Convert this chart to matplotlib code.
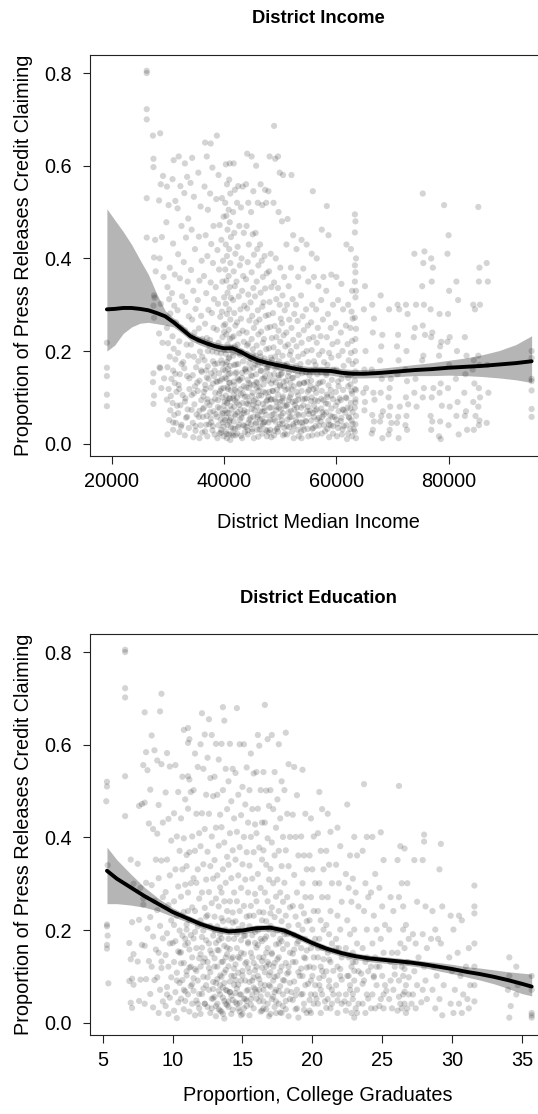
import numpy as np
import matplotlib
matplotlib.use("Agg")
import matplotlib.pyplot as plt

plt.rcParams['font.family'] = ['Liberation Sans', 'DejaVu Sans']

# district median income vs share of credit claiming releases
income_points = [
    (19100, .218), (19100, .164), (19100, .146), (19100, .106), (19100, .081),
    (26200, .805), (26200, .800), (26200, .722), (26200, .700), (26200, .530), (26200, .445),
    (27300, .665), (27400, .615), (27400, .597), (27700, .440), (27500, .402), (27800, .372), (27500, .320),
    (27600, .315), (27400, .298), (27500, .272), (27400, .152), (27300, .133), (27500, .104), (27400, .086),
    (28600, .670), (29100, .578), (28700, .560), (28400, .525), (28900, .446), (28500, .400), (29200, .360),
    (28700, .302), (28400, .238), (29000, .218), (28500, .165), (28600, .163), (29300, .141), (28800, .120),
    (29800, .555), (30100, .515), (29700, .478), (30300, .380), (29900, .338), (30200, .312), (30400, .281),
    (29800, .250), (30000, .217), (30300, .188), (29900, .165), (30600, .140), (30100, .118), (29800, .095),
    (30400, .072), (30200, .051), (29900, .020),
    (31000, .612), (30800, .571), (31300, .524), (30900, .432), (31200, .365), (30700, .325), (31100, .298),
    (31400, .262), (30800, .232), (31000, .205), (31300, .182), (30900, .158), (31200, .131), (31500, .112),
    (30800, .088), (31100, .062), (31400, .045), (30900, .030),
    (31900, .620), (32200, .556), (31700, .508), (32400, .470), (31800, .409), (32100, .357), (32500, .318),
    (31700, .288), (32300, .251), (32000, .221), (31800, .196), (32400, .172), (32100, .150), (31900, .127),
    (32600, .105), (32200, .083), (31800, .066), (32400, .041), (32000, .025),
    (33000, .605), (33400, .576), (32900, .541), (33600, .486), (33200, .445), (32800, .392), (33500, .350),
    (33100, .306), (33700, .275), (33000, .245), (33300, .214), (33600, .190), (32900, .163), (33400, .146),
    (33800, .118), (33100, .098), (33500, .074), (33200, .056), (33700, .034), (33000, .018),
    (34300, .617), (34000, .563), (34600, .533), (34200, .462), (34800, .420), (34100, .375), (34500, .330),
    (34900, .291), (34300, .268), (34700, .240), (34100, .214), (34600, .188), (35000, .165), (34400, .148),
    (34800, .124), (34200, .105), (34700, .085), (35100, .063), (34400, .045), (34900, .028), (34500, .014),
    (35400, .585), (35800, .512), (35500, .447), (36000, .395), (35600, .352), (35300, .310), (35900, .276),
    (35500, .249), (36100, .226), (35700, .199), (35400, .178), (36000, .155), (35600, .136), (35300, .114),
    (35900, .094), (36200, .075), (35500, .058), (35800, .040), (36100, .024), (35600, .012),
    (36600, .650), (36900, .620), (36500, .555), (37100, .505), (36700, .450), (37000, .405), (36400, .362),
    (36800, .325), (37200, .289), (36600, .259), (36900, .228), (37100, .200), (36500, .180), (36800, .158),
    (37200, .140), (36700, .118), (37000, .096), (36400, .078), (36900, .060), (37300, .042), (36600, .027),
    (37000, .016),
    (37600, .648), (37900, .596), (37500, .540), (38100, .470), (37700, .431), (38000, .390), (37600, .348),
    (38200, .312), (37800, .282), (38100, .250), (37500, .224), (37900, .199), (38300, .172), (37700, .152),
    (38000, .130), (38400, .110), (37800, .091), (38100, .070), (37600, .055), (38000, .038), (38300, .020),
    (38700, .665), (39000, .580), (38600, .528), (39200, .472), (38800, .418), (39100, .376), (38500, .338),
    (38900, .302), (39300, .274), (38700, .246), (39000, .218), (39400, .195), (38800, .173), (39100, .152),
    (38600, .134), (39300, .114), (38900, .094), (39200, .076), (38700, .058), (39000, .040), (39400, .024),
    (38800, .012),
    (39600, .530), (39900, .490), (39500, .440), (39800, .395), (39700, .350), (40000, .316), (39600, .285),
    (39900, .255), (39700, .230), (40000, .204), (39500, .180), (39800, .160), (39600, .140), (39900, .120),
    (39700, .100), (40000, .082), (39600, .064), (39800, .046), (39500, .030), (39900, .016),
    (40300, .603), (40500, .560), (40200, .520), (40400, .492), (40600, .462), (40300, .430), (40500, .405),
    (40200, .376), (40400, .352), (40600, .326), (40300, .302), (40500, .280), (40200, .258), (40400, .236),
    (40600, .214), (40300, .194), (40500, .176), (40200, .158), (40400, .140), (40600, .122), (40300, .104),
    (40500, .088), (40200, .072), (40400, .056), (40600, .040), (40300, .026), (40500, .012),
    (41000, .605), (40900, .570), (41100, .540), (40800, .505), (41000, .478), (41200, .446), (40900, .420),
    (41100, .390), (40800, .362), (41000, .338), (41200, .315), (40900, .290), (41100, .268), (40800, .246),
    (41000, .226), (41200, .206), (40900, .186), (41100, .168), (40800, .150), (41000, .132), (41200, .115),
    (40900, .098), (41100, .082), (40800, .066), (41000, .050), (41200, .035), (40900, .020), (41100, .008),
    (41700, .605), (41900, .548), (41600, .500), (41800, .455), (42000, .410), (41700, .372), (41900, .340),
    (41600, .310), (41800, .282), (42000, .255), (41700, .232), (41900, .210), (41600, .190), (41800, .170),
    (42000, .152), (41700, .134), (41900, .116), (41600, .098), (41800, .080), (42000, .064), (41700, .048),
    (41900, .032), (41600, .018),
    (42500, .556), (42300, .520), (42700, .470), (42400, .425), (42800, .385), (42200, .350), (42600, .318),
    (42900, .290), (42300, .262), (42700, .238), (42400, .214), (42800, .192), (42500, .172), (42200, .154),
    (42600, .136), (42900, .118), (42300, .100), (42700, .084), (42400, .068), (42800, .052), (42500, .036),
    (42300, .022),
    (43300, .555), (43000, .510), (43500, .455), (43100, .400), (43400, .362), (43200, .330), (43600, .298),
    (43000, .270), (43300, .244), (43500, .220), (43100, .198), (43400, .178), (43700, .160), (43200, .142),
    (43500, .124), (43000, .106), (43300, .088), (43600, .072), (43100, .056), (43400, .040), (43700, .025),
    (43200, .012),
    (44100, .626), (43900, .560), (44300, .520), (44000, .470), (44400, .430), (44200, .392), (43900, .355),
    (44300, .322), (44100, .292), (44500, .266), (44000, .240), (44300, .216), (44100, .194), (44500, .174),
    (43900, .156), (44200, .138), (44400, .120), (44000, .102), (44300, .085), (44100, .068), (44500, .052),
    (44000, .036), (44200, .020),
    (44900, .620), (45200, .545), (44800, .500), (45100, .452), (45300, .408), (44900, .370), (45200, .336),
    (44700, .305), (45000, .276), (45300, .250), (44900, .226), (45100, .204), (44800, .184), (45200, .164),
    (45000, .146), (44700, .128), (45100, .110), (45300, .092), (44900, .075), (45200, .058), (44800, .042),
    (45000, .026), (45300, .012),
    (45700, .600), (46000, .520), (45600, .455), (45900, .420), (46100, .385), (45800, .350), (45500, .318),
    (46000, .288), (45700, .262), (46100, .236), (45800, .212), (45600, .190), (46000, .170), (45700, .150),
    (45900, .132), (46100, .114), (45600, .096), (45800, .080), (46000, .062), (45700, .046), (45900, .030),
    (46100, .015),
    (46500, .560), (46800, .515), (46400, .430), (46700, .395), (46900, .360), (46500, .326), (46800, .296),
    (46300, .268), (46600, .242), (46900, .218), (46400, .196), (46700, .176), (46500, .158), (46800, .140),
    (46300, .122), (46600, .104), (46900, .086), (46400, .070), (46700, .054), (46500, .038), (46800, .022),
    (47300, .548), (47500, .520), (47200, .405), (47600, .368), (47300, .335), (47000, .305), (47400, .276),
    (47700, .250), (47100, .226), (47500, .204), (47200, .184), (47600, .164), (47300, .146), (47000, .128),
    (47400, .110), (47700, .094), (47200, .078), (47500, .062), (47100, .046), (47400, .030), (47600, .016),
    (48100, .620), (47900, .545), (48300, .410), (48000, .372), (48400, .338), (48100, .306), (47900, .278),
    (48200, .252), (48500, .228), (48000, .206), (48300, .186), (47900, .166), (48200, .148), (48400, .130),
    (48000, .112), (48300, .095), (48100, .078), (48500, .062), (47900, .046), (48200, .030), (48400, .014),
    (48900, .686), (49100, .615), (48800, .520), (49200, .400), (48900, .348), (49300, .312), (48700, .282),
    (49000, .254), (49300, .230), (48800, .208), (49100, .188), (49400, .168), (48900, .150), (49200, .132),
    (48700, .114), (49000, .096), (49300, .080), (48800, .064), (49100, .048), (49400, .032), (48900, .018),
    (49600, .620), (49900, .585), (49700, .500), (50000, .380), (49600, .336), (49900, .300), (50100, .270),
    (49700, .244), (50000, .220), (49600, .198), (49800, .178), (50100, .160), (49700, .142), (50000, .124),
    (49600, .106), (49900, .090), (50100, .074), (49700, .058), (49900, .042), (49600, .026),
    (50500, .580), (50300, .480), (50700, .360), (50400, .320), (50800, .288), (50300, .260), (50600, .234),
    (50900, .210), (50400, .190), (50700, .170), (50300, .152), (50600, .134), (50900, .116), (50400, .098),
    (50800, .082), (50500, .066), (50300, .050), (50700, .034), (50500, .018),
    (51300, .485), (51100, .430), (51500, .340), (51200, .300), (51600, .268), (51100, .240), (51400, .214),
    (51700, .192), (51200, .172), (51500, .154), (51100, .136), (51400, .118), (51700, .100), (51200, .084),
    (51500, .068), (51300, .052), (51600, .036), (51200, .020),
    (52000, .580), (52300, .450), (51900, .380), (52200, .312), (52500, .280), (52000, .250), (52300, .224),
    (51900, .200), (52200, .180), (52500, .160), (52100, .142), (52400, .124), (51900, .106), (52200, .090),
    (52500, .074), (52000, .058), (52300, .042), (52100, .026), (52400, .012),
    (52900, .420), (53200, .360), (52800, .300), (53100, .265), (53300, .235), (52900, .210), (53200, .188),
    (52800, .168), (53100, .148), (53400, .130), (52900, .112), (53200, .095), (53000, .078), (53300, .062),
    (52900, .046), (53100, .030), (53300, .016),
    (53800, .440), (54100, .378), (53700, .320), (54000, .275), (54200, .245), (53800, .218), (54100, .194),
    (53600, .172), (53900, .152), (54200, .132), (53800, .114), (54000, .096), (53700, .078), (54100, .062),
    (53900, .046), (54200, .030), (53800, .012),
    (54700, .430), (55000, .350), (54600, .290), (54900, .255), (55100, .226), (54700, .200), (55000, .176),
    (54600, .154), (54800, .134), (55100, .116), (54700, .098), (54900, .080), (55100, .064), (54600, .048),
    (54900, .032), (55000, .016),
    (55800, .545), (55600, .410), (56000, .360), (55700, .300), (55500, .262), (55900, .230), (55600, .202),
    (56000, .178), (55700, .156), (55500, .136), (55900, .118), (55600, .100), (56000, .082), (55800, .066),
    (55500, .050), (55900, .034), (55700, .018),
    (56500, .400), (56800, .340), (56400, .290), (56700, .250), (56500, .218), (56900, .192), (56300, .170),
    (56600, .150), (56800, .130), (56400, .110), (56700, .092), (56500, .074), (56900, .056), (56300, .038),
    (56600, .020),
    (57400, .462), (57700, .360), (57300, .310), (57600, .268), (57200, .232), (57500, .200), (57800, .176),
    (57300, .154), (57600, .134), (57400, .114), (57700, .094), (57300, .076), (57500, .058), (57800, .040),
    (57400, .022),
    (58300, .513), (58600, .450), (58200, .330), (58500, .280), (58300, .230), (58700, .196), (58400, .170),
    (58200, .148), (58600, .126), (58300, .106), (58500, .086), (58200, .068), (58600, .050), (58400, .032),
    (58700, .014),
    (59100, .365), (59400, .300), (59000, .250), (59300, .215), (59100, .186), (59500, .160), (59200, .138),
    (59000, .116), (59400, .096), (59100, .076), (59300, .058), (59000, .040), (59400, .022),
    (60000, .360), (60300, .310), (59900, .260), (60200, .220), (60400, .190), (60000, .160), (60300, .134),
    (59900, .112), (60200, .090), (60400, .070), (60000, .052), (60300, .034), (60100, .016),
    (60900, .345), (61200, .290), (60800, .240), (61100, .200), (61300, .168), (60900, .140), (61200, .116),
    (60800, .094), (61100, .074), (60900, .056), (61300, .038), (61000, .020),
    (61800, .430), (62100, .300), (61700, .255), (62000, .215), (62200, .180), (61800, .150), (62100, .124),
    (61700, .100), (62000, .078), (62200, .058), (61800, .040), (62100, .022), (61900, .010),
    (62600, .420), (62800, .330), (62700, .285), (62900, .270), (62500, .250), (62800, .222), (62600, .196),
    (62900, .172), (62700, .150), (62500, .128), (62800, .108), (62600, .088), (62900, .068), (62700, .050),
    (62500, .032), (62800, .016),
    (63300, .495), (63400, .480), (63300, .456), (63500, .400), (63300, .385), (63400, .370), (63300, .350),
    (63500, .330), (63400, .316), (63300, .272), (63500, .248), (63400, .226), (63300, .200), (63500, .178),
    (63400, .156), (63300, .136), (63500, .116), (63400, .096), (63300, .078), (63500, .060), (63400, .042),
    (63300, .026), (63500, .012),
    (65100, .340), (64900, .290), (65200, .200), (65000, .160), (65300, .120), (64800, .110), (65100, .090),
    (65000, .072),
    (66400, .300), (66700, .270), (66500, .240), (66300, .160), (66600, .110), (66800, .095), (66400, .062),
    (66700, .048), (66500, .030), (66300, .022),
    (67900, .320), (68200, .235), (68000, .210), (67800, .180), (68100, .140), (67900, .110), (68300, .070),
    (68000, .060), (67800, .048), (68200, .012),
    (69400, .290), (69700, .140), (69500, .120), (69300, .100), (69600, .080), (69400, .060), (69800, .045),
    (69500, .030), (69300, .020),
    (70900, .300), (71200, .290), (71000, .235), (70800, .210), (71100, .180), (70900, .150), (71300, .080),
    (71000, .058), (70800, .045), (71100, .012),
    (72400, .300), (72700, .280), (72500, .200), (72300, .160), (72600, .135), (72400, .100), (72800, .085),
    (72500, .060), (72300, .040), (72600, .030),
    (73900, .410), (74200, .300), (74000, .250), (73800, .230), (74100, .140), (73900, .110), (74300, .080),
    (75400, .540), (75700, .415), (75500, .390), (75300, .340), (75600, .300), (75400, .255), (75800, .235),
    (75500, .190), (75300, .180), (75600, .120), (75400, .100),
    (76900, .400), (77200, .380), (77000, .350), (76800, .290), (77100, .240), (76900, .230), (77300, .120),
    (77000, .100), (76800, .060), (77100, .048), (76900, .030),
    (78400, .280), (78700, .220), (78500, .210), (78300, .190), (78600, .130), (78400, .110), (78800, .082),
    (78500, .048), (78300, .016), (78600, .010),
    (79200, .515), (80000, .450), (79800, .410), (80100, .330), (79900, .280), (80200, .230), (79800, .220),
    (80100, .170), (79900, .120), (80200, .080), (80000, .040),
    (81400, .350), (81700, .310), (81500, .200), (81300, .140), (81600, .090), (81400, .060), (81800, .020),
    (82900, .230), (83200, .190), (83000, .150), (82800, .110), (83100, .070), (82900, .060), (83300, .030),
    (84400, .300), (84700, .290), (84500, .180), (84300, .160), (84600, .130), (84400, .090), (84800, .060),
    (84500, .030),
    (85300, .511), (85500, .380), (85400, .350), (85600, .300), (85300, .190), (85500, .170), (85400, .120),
    (85600, .100), (85300, .080), (85500, .050), (85400, .040),
    (86800, .390), (87000, .350), (86900, .170), (87100, .110), (86800, .045),
    (94800, .200), (94800, .185), (94800, .140), (94800, .135), (94800, .115), (94800, .075), (94800, .058),
]

# the crowded low-share districts between 30k and 64k
income_core_points = [
    (30500, .103), (30900, .046), (31300, .151), (31600, .082), (32000, .118), (32300, .037), (32700, .176),
    (33000, .091), (33400, .058), (33800, .141), (34200, .073), (34600, .109), (34900, .038),
    (35200, .132), (35600, .071), (36100, .188), (36300, .102), (36800, .041), (37100, .167), (37400, .083),
    (37600, .121), (37900, .029), (38200, .146), (38500, .064), (38700, .197), (39100, .108), (39400, .052),
    (39700, .173), (39900, .037), (40100, .091), (40200, .143), (40400, .021), (40500, .067), (40700, .118),
    (40800, .184), (40900, .046), (41000, .097), (41100, .152), (41300, .074), (41400, .229), (41600, .033),
    (41800, .126), (42000, .061), (42100, .171), (42300, .089), (42600, .041), (42800, .138), (43000, .017),
    (43300, .109), (43500, .066), (43800, .162), (44000, .087), (44200, .029), (44400, .131), (44700, .056),
    (44900, .103), (45100, .192), (45400, .072), (45600, .043), (45800, .121), (46100, .088), (46300, .031),
    (46600, .157), (46800, .069), (47000, .112), (47300, .047), (47500, .091), (47800, .136), (48000, .024),
    (48300, .078), (48600, .114), (48800, .052), (49100, .163), (49300, .091), (49600, .036), (49900, .127),
    (50200, .061), (50500, .102), (50800, .021), (51100, .081), (51400, .146), (51700, .057), (52000, .118),
    (52400, .038), (52700, .092), (53000, .064), (53400, .128), (53700, .026), (54100, .083), (54500, .049),
    (54900, .112), (55300, .071), (55700, .032), (56200, .094), (56600, .052), (57100, .132), (57500, .068),
    (58000, .027), (58400, .101), (58900, .061), (59400, .038), (59900, .082), (60400, .124), (60800, .049),
    (61300, .073), (61800, .098), (62300, .056), (62700, .114), (63100, .031), (63400, .089),
    (35400, .224), (35900, .158), (36200, .058), (36600, .127), (37000, .089), (37300, .214), (37700, .046),
    (38000, .178), (38400, .097), (38800, .134), (39200, .022), (39500, .119), (39800, .066), (40000, .241),
    (40300, .171), (40600, .093), (40900, .131), (41200, .056), (41500, .197), (41700, .104), (42000, .018),
    (42200, .113), (42500, .196), (42900, .074), (43200, .153), (43600, .038), (43900, .121), (44100, .212),
    (44500, .092), (44800, .148), (45000, .032), (45300, .127), (45500, .171), (45900, .058), (46200, .104),
    (46500, .188), (46900, .042), (47200, .071), (47600, .158), (47900, .101), (48200, .052), (48500, .181),
    (48700, .137), (49000, .028), (49400, .117), (49800, .078), (50100, .149), (50400, .043), (50700, .124),
    (51000, .167), (51500, .094), (51900, .071), (52300, .142), (52800, .051), (53200, .104), (53600, .161),
    (54000, .037), (54300, .131), (54800, .071), (55200, .148), (55500, .092), (56000, .058), (56400, .121),
    (56900, .039), (57300, .097), (57800, .063), (58200, .152), (58700, .041), (59100, .104), (59700, .058),
    (60200, .043), (60600, .098), (61100, .031), (61600, .067), (62100, .142), (62500, .076), (62900, .043),
    (63300, .118),
    (36400, .112), (36900, .143), (37500, .068), (38300, .158), (38900, .079), (39300, .136), (40100, .051),
    (40700, .161), (41300, .021), (41900, .093), (42400, .141), (43100, .063), (43700, .101), (44300, .045),
    (44600, .161), (45200, .084), (45700, .133), (46400, .052), (47100, .141), (47700, .028), (48400, .096),
    (49200, .072), (49700, .148), (50300, .092), (51200, .038), (51800, .131), (52600, .084), (53500, .046),
    (54400, .097), (55400, .124), (56300, .071), (57200, .048), (58100, .087),
]

# loess fit and 95% band, income panel
income_fit_x = [19100, 20500, 22000, 23500, 25000, 26500, 28000, 29500, 31000, 32500, 34000, 35500,
                37000, 38500, 40000, 41500, 43000, 44500, 46000, 47500, 49000, 51000, 53000, 55000,
                57000, 59000, 61000, 63000, 65000, 68000, 71000, 74000, 77000, 80000, 83000, 86000,
                89000, 92000, 94800]
income_fit = [.290, .291, .293, .293, .291, .288, .282, .275, .262, .247, .232, .223,
              .216, .210, .206, .206, .198, .188, .180, .175, .171, .166, .161, .158,
              .158, .157, .153, .151, .151, .153, .156, .159, .161, .164, .166, .168,
              .171, .174, .178]
income_hi = [.507, .483, .458, .430, .397, .365, .323, .287, .271, .256, .241, .232,
             .225, .219, .215, .215, .207, .197, .189, .184, .180, .175, .170, .167,
             .167, .166, .162, .160, .160, .163, .167, .171, .175, .180, .185, .192,
             .201, .214, .233]
income_lo = [.200, .213, .238, .252, .260, .262, .259, .256, .252, .238, .223, .214,
             .207, .201, .197, .197, .189, .179, .171, .166, .162, .157, .152, .149,
             .149, .148, .144, .142, .142, .143, .145, .147, .147, .148, .147, .145,
             .142, .138, .132]

# share of college graduates vs share of credit claiming releases
educ_points = [
    (5.3, .520), (5.3, .510), (5.25, .478), (5.35, .340), (5.3, .212), (5.3, .208), (5.35, .188),
    (5.3, .168), (5.3, .160), (5.4, .085),
    (6.6, .805), (6.6, .800), (6.6, .722), (6.6, .702), (6.6, .532), (6.6, .446),
    (7.0, .352), (7.2, .300), (7.1, .217), (6.9, .172), (7.2, .148), (7.0, .137), (7.1, .095),
    (6.9, .090), (7.2, .082), (7.0, .043), (7.1, .032),
    (7.6, .468), (7.8, .472), (7.5, .343), (7.7, .291), (7.9, .255), (7.6, .222), (7.8, .168),
    (7.5, .132), (7.7, .093), (7.6, .047),
    (8.0, .670), (8.1, .584), (7.9, .556), (8.2, .545), (8.0, .475), (8.3, .430), (8.1, .302),
    (7.9, .268), (8.2, .203), (8.0, .166), (8.3, .133), (8.1, .094), (8.0, .041),
    (8.5, .620), (8.7, .588), (8.4, .503), (8.6, .418), (8.8, .352), (8.5, .297), (8.7, .263),
    (8.4, .228), (8.6, .186), (8.8, .158), (8.5, .121), (8.7, .092), (8.4, .062), (8.6, .033),
    (9.2, .710), (9.1, .672), (8.9, .566), (9.2, .558), (9.0, .470), (9.3, .432), (8.9, .408),
    (9.2, .350), (9.0, .312), (9.3, .271), (8.9, .243), (9.1, .209), (9.3, .182), (9.0, .151),
    (9.2, .118), (8.9, .098), (9.1, .071), (9.3, .046), (9.0, .021),
    (9.6, .582), (9.8, .553), (9.5, .497), (9.7, .440), (9.9, .393), (9.6, .352), (9.8, .318),
    (9.5, .282), (9.7, .254), (9.9, .221), (9.6, .193), (9.8, .171), (9.5, .146), (9.7, .121),
    (9.9, .098), (9.6, .077), (9.8, .054), (9.5, .036), (9.7, .019),
    (10.2, .556), (10.4, .498), (10.1, .452), (10.3, .402), (10.5, .371), (10.2, .331), (10.4, .294),
    (10.1, .262), (10.3, .231), (10.5, .199), (10.2, .176), (10.4, .154), (10.1, .131), (10.3, .108),
    (10.5, .086), (10.2, .066), (10.4, .044), (10.1, .026), (10.3, .010),
    (10.8, .632), (10.7, .531), (10.9, .482), (10.6, .441), (10.8, .398), (11.0, .362), (10.7, .331),
    (10.9, .298), (10.6, .272), (10.8, .239), (11.0, .212), (10.7, .188), (10.9, .168), (10.6, .152),
    (10.8, .129), (11.0, .111), (10.7, .092), (10.9, .068), (10.6, .052), (10.8, .029),
    (11.1, .636), (11.2, .612), (11.1, .604), (11.1, .532), (11.2, .525), (11.3, .498), (11.1, .462),
    (11.4, .402), (11.2, .368), (11.0, .338), (11.3, .301), (11.1, .281), (11.4, .249), (11.2, .222),
    (11.0, .201), (11.3, .189), (11.1, .172), (11.4, .141), (11.2, .119), (11.0, .102), (11.3, .079),
    (11.1, .061), (11.4, .041), (11.2, .024),
    (11.6, .581), (11.8, .552), (11.5, .502), (11.7, .451), (11.9, .409), (11.6, .371), (11.8, .331),
    (11.5, .312), (11.7, .302), (11.9, .268), (11.6, .241), (11.8, .208), (11.5, .182), (11.7, .161),
    (11.9, .139), (11.6, .116), (11.8, .091), (11.5, .069), (11.7, .048), (11.9, .031), (11.6, .016),
    (12.1, .668), (12.3, .622), (12.0, .601), (12.2, .548), (12.4, .492), (12.1, .452), (12.3, .418),
    (12.0, .381), (12.2, .342), (12.4, .309), (12.1, .281), (12.3, .248), (12.0, .221), (12.2, .199),
    (12.4, .178), (12.1, .162), (12.3, .139), (12.0, .121), (12.2, .099), (12.4, .081), (12.1, .062),
    (12.3, .041), (12.0, .019),
    (12.6, .655), (12.8, .621), (12.5, .572), (12.7, .528), (12.9, .489), (12.6, .451), (12.8, .402),
    (12.5, .369), (12.7, .338), (12.9, .311), (12.6, .282), (12.8, .258), (12.5, .232), (12.7, .209),
    (12.9, .188), (12.6, .171), (12.8, .149), (12.5, .131), (12.7, .109), (12.9, .088), (12.6, .071),
    (12.8, .052), (12.5, .034), (12.7, .021),
    (13.1, .602), (13.3, .568), (13.0, .531), (13.2, .492), (13.4, .449), (13.1, .421), (13.3, .382),
    (13.0, .351), (13.2, .318), (13.4, .292), (13.1, .268), (13.3, .251), (13.0, .229), (13.2, .208),
    (13.4, .191), (13.1, .172), (13.3, .156), (13.0, .139), (13.2, .121), (13.4, .102), (13.1, .086),
    (13.3, .069), (13.0, .056), (13.2, .041), (13.4, .026), (13.1, .014),
    (13.6, .681), (13.7, .652), (13.5, .602), (13.8, .548), (13.6, .502), (13.9, .461), (13.5, .422),
    (13.7, .389), (13.9, .358), (13.6, .331), (13.8, .302), (13.5, .281), (13.7, .262), (13.9, .241),
    (13.6, .219), (13.8, .201), (13.5, .182), (13.7, .166), (13.9, .148), (13.6, .132), (13.8, .114),
    (13.5, .099), (13.7, .086), (13.9, .069), (13.6, .054), (13.8, .041), (13.5, .024), (13.7, .009),
    (14.1, .602), (14.3, .548), (14.0, .521), (14.2, .478), (14.4, .441), (14.1, .409), (14.3, .372),
    (14.0, .341), (14.2, .312), (14.4, .281), (14.1, .262), (14.3, .238), (14.0, .221), (14.2, .199),
    (14.4, .181), (14.1, .159), (14.3, .141), (14.0, .122), (14.2, .101), (14.4, .082), (14.1, .066),
    (14.3, .049), (14.0, .034), (14.2, .019),
    (14.6, .679), (14.8, .601), (14.5, .539), (14.7, .492), (14.9, .448), (14.6, .412), (14.8, .379),
    (14.5, .352), (14.7, .318), (14.9, .291), (14.6, .262), (14.8, .241), (14.5, .219), (14.7, .202),
    (14.9, .178), (14.6, .161), (14.8, .139), (14.5, .126), (14.7, .108), (14.9, .091), (14.6, .074),
    (14.8, .061), (14.5, .044), (14.7, .031), (14.9, .016),
    (15.1, .601), (15.3, .551), (15.0, .509), (15.2, .471), (15.4, .432), (15.1, .401), (15.3, .368),
    (15.0, .342), (15.2, .309), (15.4, .281), (15.1, .252), (15.3, .229), (15.0, .211), (15.2, .188),
    (15.4, .171), (15.1, .149), (15.3, .131), (15.0, .112), (15.2, .091), (15.4, .071), (15.1, .052),
    (15.3, .036), (15.0, .019),
    (15.6, .581), (15.8, .538), (15.5, .502), (15.7, .461), (15.9, .428), (15.6, .401), (15.8, .368),
    (15.5, .339), (15.7, .311), (15.9, .278), (15.6, .252), (15.8, .231), (15.5, .208), (15.7, .189),
    (15.9, .172), (15.6, .151), (15.8, .129), (15.5, .109), (15.7, .091), (15.9, .072), (15.6, .051),
    (15.8, .031), (15.5, .016),
    (16.1, .621), (16.2, .598), (16.0, .541), (16.3, .502), (16.1, .462), (16.4, .432), (16.0, .409),
    (16.2, .378), (16.4, .352), (16.1, .321), (16.3, .291), (16.0, .262), (16.2, .239), (16.4, .221),
    (16.1, .199), (16.3, .181), (16.0, .162), (16.2, .141), (16.4, .119), (16.1, .101), (16.3, .084),
    (16.0, .066), (16.2, .046), (16.4, .026),
    (16.6, .686), (16.8, .612), (16.5, .541), (16.7, .501), (16.9, .468), (16.6, .432), (16.8, .398),
    (16.5, .372), (16.7, .341), (16.9, .309), (16.6, .281), (16.8, .262), (16.5, .238), (16.7, .219),
    (16.9, .201), (16.6, .181), (16.8, .161), (16.5, .141), (16.7, .121), (16.9, .102), (16.6, .081),
    (16.8, .061), (16.5, .046), (16.7, .029), (16.9, .014),
    (17.1, .621), (17.3, .541), (17.0, .502), (17.2, .461), (17.4, .421), (17.1, .389), (17.3, .361),
    (17.0, .332), (17.2, .301), (17.4, .272), (17.1, .249), (17.3, .228), (17.0, .209), (17.2, .191),
    (17.4, .169), (17.1, .151), (17.3, .129), (17.0, .109), (17.2, .091), (17.4, .071), (17.1, .051),
    (17.3, .034), (17.0, .019),
    (17.6, .601), (17.8, .521), (17.5, .482), (17.7, .441), (17.9, .401), (17.6, .371), (17.8, .338),
    (17.5, .309), (17.7, .281), (17.9, .261), (17.6, .241), (17.8, .219), (17.5, .199), (17.7, .181),
    (17.9, .159), (17.6, .141), (17.8, .121), (17.5, .101), (17.7, .079), (17.9, .061), (17.6, .041),
    (17.8, .021),
    (18.1, .626), (18.3, .558), (18.0, .502), (18.2, .451), (18.4, .401), (18.1, .372), (18.3, .338),
    (18.0, .302), (18.2, .271), (18.4, .249), (18.1, .231), (18.3, .209), (18.0, .191), (18.2, .169),
    (18.4, .151), (18.1, .129), (18.3, .109), (18.0, .091), (18.2, .069), (18.4, .051), (18.1, .029),
    (18.3, .014),
    (18.7, .552), (18.9, .491), (18.6, .449), (18.8, .401), (19.0, .361), (18.7, .319), (18.9, .281),
    (18.6, .252), (18.8, .229), (19.0, .211), (18.7, .189), (18.9, .171), (18.6, .149), (18.8, .131),
    (19.0, .109), (18.7, .089), (18.9, .071), (18.6, .049), (18.8, .029), (19.0, .011),
    (19.3, .546), (19.5, .451), (19.2, .402), (19.4, .361), (19.6, .331), (19.3, .301), (19.5, .271),
    (19.2, .251), (19.4, .236), (19.6, .219), (19.3, .201), (19.5, .181), (19.2, .161), (19.4, .141),
    (19.6, .119), (19.3, .101), (19.5, .081), (19.2, .061), (19.4, .041), (19.6, .021),
    (19.9, .441), (20.1, .402), (19.8, .361), (20.0, .331), (20.2, .301), (19.9, .271), (20.1, .241),
    (19.8, .221), (20.0, .201), (20.2, .181), (19.9, .161), (20.1, .141), (19.8, .121), (20.0, .101),
    (20.2, .081), (19.9, .061), (20.1, .041), (19.8, .026),
    (20.5, .498), (20.7, .461), (20.4, .409), (20.6, .371), (20.8, .331), (20.5, .301), (20.7, .271),
    (20.4, .241), (20.6, .221), (20.8, .201), (20.5, .181), (20.7, .161), (20.4, .141), (20.6, .121),
    (20.8, .101), (20.5, .081), (20.7, .061), (20.4, .041), (20.6, .021),
    (21.1, .451), (21.3, .412), (21.0, .371), (21.2, .341), (21.4, .301), (21.1, .271), (21.3, .241),
    (21.0, .211), (21.2, .191), (21.4, .171), (21.1, .151), (21.3, .131), (21.0, .111), (21.2, .091),
    (21.4, .071), (21.1, .051), (21.3, .031),
    (21.8, .421), (22.0, .381), (21.7, .341), (21.9, .301), (22.1, .261), (21.8, .231), (22.0, .201),
    (21.7, .181), (21.9, .161), (22.1, .141), (21.8, .121), (22.0, .101), (21.7, .081), (21.9, .061),
    (22.1, .041), (21.8, .021),
    (22.5, .471), (22.7, .361), (22.4, .321), (22.6, .291), (22.8, .261), (22.5, .221), (22.7, .191),
    (22.4, .161), (22.6, .141), (22.8, .121), (22.5, .101), (22.7, .081), (22.4, .061), (22.6, .041),
    (22.8, .021),
    (23.0, .401), (23.2, .361), (22.9, .311), (23.1, .281), (23.3, .251), (23.0, .201), (23.2, .171),
    (22.9, .151), (23.1, .131), (23.3, .111), (23.0, .091), (23.2, .071), (22.9, .051), (23.1, .031),
    (23.0, .011),
    (23.7, .515), (23.9, .401), (23.6, .371), (23.8, .301), (24.0, .271), (23.7, .241), (23.9, .201),
    (23.6, .161), (23.8, .131), (24.0, .111), (23.7, .091), (23.9, .061), (23.6, .041), (23.8, .021),
    (24.3, .401), (24.5, .321), (24.2, .281), (24.4, .231), (24.6, .201), (24.3, .171), (24.5, .141),
    (24.2, .121), (24.4, .101), (24.6, .081), (24.3, .061), (24.5, .031),
    (24.9, .411), (25.1, .351), (24.8, .291), (25.0, .251), (25.2, .211), (24.9, .181), (25.1, .151),
    (24.8, .121), (25.0, .101), (25.2, .081), (24.9, .051), (25.1, .031),
    (25.6, .271), (25.8, .241), (25.5, .201), (25.7, .151), (25.9, .121), (25.6, .091), (25.8, .071),
    (25.5, .051), (25.7, .031),
    (26.2, .511), (26.3, .381), (26.1, .351), (26.4, .301), (26.2, .271), (26.5, .201), (26.3, .171),
    (26.1, .151), (26.4, .121), (26.2, .091), (26.5, .061), (26.3, .041), (26.1, .026),
    (26.6, .376), (26.8, .301), (26.5, .251), (26.7, .211), (26.9, .181), (26.6, .161), (26.8, .131),
    (26.5, .101), (26.7, .081), (26.9, .061), (26.6, .041), (26.8, .031), (26.7, .021),
    (27.3, .351), (27.5, .261), (27.2, .191), (27.4, .171), (27.6, .141), (27.3, .111), (27.5, .081),
    (27.2, .061), (27.4, .031),
    (28.0, .406), (28.0, .391), (27.9, .351), (28.1, .251), (27.9, .191), (28.2, .161), (28.0, .121),
    (28.1, .091), (27.9, .071), (28.2, .051),
    (28.6, .241), (28.8, .201), (28.5, .181), (28.7, .121), (28.9, .101), (28.6, .071), (28.8, .031),
    (29.2, .386), (29.1, .331), (29.3, .251), (29.0, .181), (29.2, .171), (29.4, .081), (29.1, .051),
    (29.3, .016),
    (29.9, .231), (30.1, .201), (29.8, .141), (30.0, .111), (30.2, .071), (29.9, .041), (30.1, .021),
    (30.5, .231), (30.7, .221), (30.4, .151), (30.6, .101), (30.8, .061), (30.5, .041), (30.7, .021),
    (31.2, .161), (31.0, .121), (31.3, .081), (31.1, .051), (31.2, .031),
    (31.6, .296), (31.6, .251), (31.6, .236), (31.6, .171), (31.6, .121), (31.6, .081), (31.6, .046),
    (34.1, .141), (34.1, .101), (34.0, .071), (34.2, .036), (34.1, .011),
    (34.6, .121), (34.7, .081), (34.6, .061),
    (35.7, .101), (35.7, .071), (35.7, .021), (35.7, .016), (35.7, .011),
]

# the crowded low-share districts between 9 and 28 percent
educ_core_points = [
    (9.2, .132), (9.6, .061), (10.0, .172), (10.3, .091), (10.6, .128), (10.9, .047), (11.2, .158),
    (11.4, .083), (11.7, .112), (11.9, .062), (12.1, .185), (12.3, .041), (12.5, .098), (12.7, .156),
    (12.9, .073), (13.0, .121), (13.1, .036), (13.2, .094), (13.3, .178), (13.4, .061), (13.5, .131),
    (13.6, .019), (13.7, .108), (13.8, .071), (13.9, .162), (14.0, .046), (14.1, .089), (14.2, .138),
    (14.3, .028), (14.4, .117), (14.5, .064), (14.6, .191), (14.7, .082), (14.8, .043), (14.9, .151),
    (15.0, .102), (15.1, .031), (15.2, .128), (15.3, .069), (15.4, .174), (15.5, .088), (15.6, .039),
    (15.7, .141), (15.8, .076), (15.9, .113), (16.0, .052), (16.1, .168), (16.2, .094), (16.3, .024),
    (16.4, .133), (16.5, .071), (16.6, .109), (16.7, .186), (16.8, .041), (16.9, .126), (17.0, .078),
    (17.1, .148), (17.2, .056), (17.3, .099), (17.4, .021), (17.5, .137), (17.6, .068), (17.8, .176),
    (17.9, .092), (18.1, .047), (18.3, .121), (18.5, .066), (18.7, .158), (18.9, .031), (19.1, .101),
    (19.3, .062), (19.5, .139), (19.7, .084), (19.9, .021), (20.1, .119), (20.3, .052), (20.5, .096),
    (20.8, .137), (21.0, .032), (21.2, .078), (21.5, .112), (21.8, .048), (22.1, .093), (22.4, .026),
    (22.7, .071), (23.0, .112), (23.3, .041), (23.6, .084), (24.0, .052), (24.4, .098), (24.8, .036),
    (25.3, .069), (25.9, .104), (26.4, .031), (26.6, .067), (26.9, .098), (27.8, .044),
    (10.1, .211), (10.5, .151), (10.8, .071), (11.1, .241), (11.3, .121), (11.6, .196), (11.8, .041),
    (12.0, .148), (12.2, .074), (12.4, .229), (12.6, .118), (12.8, .031), (13.0, .199), (13.2, .157),
    (13.4, .081), (13.5, .226), (13.7, .047), (13.8, .141), (14.0, .181), (14.1, .066), (14.3, .216),
    (14.4, .101), (14.6, .041), (14.7, .142), (14.9, .061), (15.1, .188), (15.2, .051), (15.4, .119),
    (15.5, .231), (15.7, .061), (15.9, .196), (16.0, .121), (16.2, .071), (16.4, .176), (16.5, .031),
    (16.7, .151), (16.9, .081), (17.0, .236), (17.2, .121), (17.4, .046), (17.6, .171), (17.7, .111),
    (17.9, .036), (18.2, .191), (18.4, .086), (18.6, .131), (18.8, .059), (19.0, .176), (19.2, .117),
    (19.4, .028), (19.6, .156), (19.9, .091), (20.2, .061), (20.4, .161), (20.7, .112), (20.9, .046),
    (21.2, .136), (21.5, .061), (21.7, .161), (22.0, .116), (22.3, .046), (22.6, .101), (22.9, .131),
    (23.2, .021), (23.5, .106), (23.9, .141), (24.2, .031), (24.6, .121), (25.1, .061), (25.6, .131),
    (26.2, .056), (26.6, .116), (27.1, .041),
    (12.9, .052), (13.3, .029), (13.6, .076), (13.9, .038), (14.2, .058), (14.5, .092), (14.8, .024),
    (15.3, .047), (15.8, .098), (16.3, .057), (16.8, .131), (17.3, .066), (17.7, .022), (18.2, .106),
    (12.2, .131), (11.5, .096), (10.9, .181), (19.8, .049), (20.6, .071), (21.4, .041), (22.9, .062),
]

educ_fit_x = [5.3, 6, 7, 8, 9, 10, 11, 12, 13, 14, 15, 16, 17, 18, 19, 20, 21, 22, 23, 24, 25,
              26, 27, 28, 29, 30, 31, 32, 33, 34, 35, 35.7]
educ_fit = [.328, .311, .292, .273, .256, .239, .226, .213, .203, .197, .199, .204, .205, .199,
            .186, .172, .160, .151, .144, .139, .136, .133, .130, .126, .121, .116, .110, .105,
            .099, .092, .084, .078]
educ_hi = [.379, .352, .321, .292, .268, .248, .233, .220, .210, .204, .206, .211, .212, .206,
           .193, .179, .167, .158, .151, .146, .143, .140, .137, .133, .130, .126, .121, .118,
           .114, .110, .107, .105]
educ_lo = [.257, .257, .254, .249, .241, .229, .218, .206, .196, .190, .192, .197, .198, .192,
           .179, .165, .153, .144, .137, .132, .129, .126, .123, .119, .112, .106, .099, .092,
           .084, .074, .063, .058]

W, H = 538, 1114
fig = plt.figure(figsize=(W / 100, H / 100), dpi=100)


def px_box(top, bottom, left=89.5, right=549):
    return [left / W, 1 - bottom / H, (right - left) / W, (bottom - top) / H]


def draw_panel(ax, pts, fx, fit, lo, hi, xlim, xticks):
    px, py = np.array(pts).T
    ax.fill_between(fx, lo, hi, color='#b5b5b5', lw=0, zorder=1)
    ax.scatter(px, py, s=20, c='black', alpha=0.17, edgecolors='none', zorder=2)
    ax.plot(fx, fit, color='black', lw=2.8, zorder=3, solid_capstyle='round')
    ax.set_xlim(*xlim)
    ax.set_ylim(-0.0265, 0.839)
    ax.set_xticks(xticks)
    ax.set_yticks([0.0, 0.2, 0.4, 0.6, 0.8])
    ax.set_yticklabels(['0.0', '0.2', '0.4', '0.6', '0.8'])
    for sp in ax.spines.values():
        sp.set_linewidth(0.8)
        sp.set_color('#222222')
    ax.tick_params(length=5.4, width=0.8, color='#222222', labelsize=14.3)
    ax.tick_params(axis='x', pad=5.8)
    ax.tick_params(axis='y', pad=7.5)


ax1 = fig.add_axes(px_box(55, 456))
draw_panel(ax1, income_points + income_core_points, income_fit_x, income_fit, income_lo, income_hi,
           (16000, 97900), [20000, 40000, 60000, 80000])

ax2 = fig.add_axes(px_box(634, 1035))
draw_panel(ax2, educ_points + educ_core_points, educ_fit_x, educ_fit, educ_lo, educ_hi,
           (4.05, 36.94), [5, 10, 15, 20, 25, 30, 35])

# titles and axis labels, placed in pixel terms
def ftext(x, y, s, **kw):
    fig.text(x / W, 1 - y / H, s, **kw)

ftext(318, 23.3, 'District Income', ha='center', va='baseline', fontsize=13.2, fontweight='bold')
ftext(318, 603.3, 'District Education', ha='center', va='baseline', fontsize=13.2, fontweight='bold')
ftext(318, 528.3, 'District Median Income', ha='center', va='baseline', fontsize=14.3)
ftext(318, 1100.7, 'Proportion, College Graduates', ha='center', va='baseline', fontsize=14.3)
for yc in [(55 + 456) / 2, (634 + 1035) / 2]:
    ftext(23.3, yc, 'Proportion of Press Releases Credit Claiming', rotation=90,
          ha='center', va='center', fontsize=14.3)

fig.savefig('out.png', dpi=100)
